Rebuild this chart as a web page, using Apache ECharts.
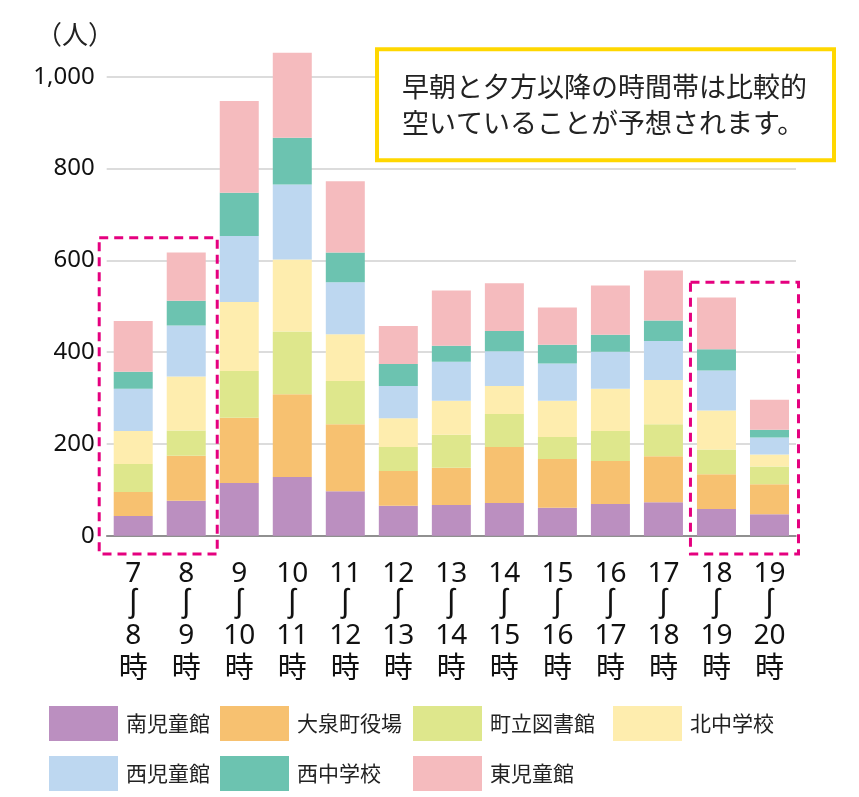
<!DOCTYPE html>
<html><head><meta charset="utf-8">
<script src="https://cdn.jsdelivr.net/npm/echarts@6/dist/echarts.min.js"></script>
<style>html,body{margin:0;padding:0;background:#fff}#c{width:859px;height:797px}</style>
</head><body><div id="c"></div>
<script>
const startHours = [7,8,9,10,11,12,13,14,15,16,17,18,19];
const endHours   = [8,9,10,11,12,13,14,15,16,17,18,19,20];
const categories = startHours.map((s,i)=>s+'〜'+endHours[i]+'時');
const seriesNames = ['南児童館','大泉町役場','町立図書館','北中学校','西児童館','西中学校','東児童館'];
const minamiJidokan  = [43, 76, 115, 128, 97, 65, 67, 71, 61, 69, 73, 58, 47];
const oizumiYakuba   = [52, 98, 142, 180, 146, 76, 81, 122, 106, 94, 100, 76, 65];
const choritsuTosho  = [61, 55, 102, 137, 94, 52, 72, 72, 48, 65, 70, 54, 39];
const kitaChugakko   = [72, 118, 150, 157, 102, 63, 74, 61, 79, 92, 96, 85, 26];
const nishiJidokan   = [92, 111, 144, 163, 113, 70, 85, 76, 81, 81, 85, 87, 37];
const nishiChugakko  = [37, 54, 94, 102, 65, 48, 35, 44, 41, 37, 45, 46, 17];
const higashiJidokan = [111, 105, 200, 185, 155, 83, 120, 104, 81, 107, 109, 113, 65];
const seriesValues = [minamiJidokan, oizumiYakuba, choritsuTosho, kitaChugakko, nishiJidokan, nishiChugakko, higashiJidokan];
const colors = ['#bb8fc0','#f7c170','#dee78c','#feedae','#bdd7f0','#6cc3b0','#f5bbbe'];
const yTicks = [0,200,400,600,800,1000];
const highlightGroups = [[0,1],[11,12]];
const noteLines = ['早朝と夕方以降の時間帯は比較的','空いていることが予想されます。'];

const JP = "'Noto Sans CJK JP', 'Noto Sans', sans-serif";
const NUM = "'Noto Sans', 'Noto Sans CJK JP', sans-serif";

const chart = echarts.init(document.getElementById('c'));
const legendCols = [[0,4],[1,5],[2,6],[3]];
const legendLefts = [44, 215, 408, 608];
const option = {
  animation: false,
  grid: {left: 106.7, right: 63, top: 76.7, bottom: 261.3, containLabel: false},
  xAxis: {
    type: 'category', data: categories,
    axisLine: {show: true, lineStyle: {color: '#777', width: 1.5}},
    axisTick: {show: false},
    axisLabel: {
      interval: 0, margin: 23, color: '#111', fontFamily: NUM, fontSize: 28, lineHeight: 31,
      formatter: (v) => { const m = v.match(/(\d+)〜(\d+)時/); return m[1] + '\n{w|ʃ}\n' + m[2] + '\n{j|時}'; },
      rich: {
        w: {fontFamily: "'Noto Sans'", fontSize: 31, lineHeight: 31, color: '#111', padding: [0, 0, 4, 0]},
        j: {fontFamily: JP, fontSize: 29, lineHeight: 31, color: '#111'}
      }
    }
  },
  yAxis: {
    type: 'value', min: 0, max: 1000, interval: 200,
    axisLine: {show: false}, axisTick: {show: false},
    splitLine: {lineStyle: {color: '#d0d0d0', width: 1.5}},
    axisLabel: {margin: 12, color: '#111', fontFamily: NUM, fontSize: 24,
      formatter: (v) => v.toLocaleString('en-US')}
  },
  legend: legendCols.map((col, k) => ({
    orient: 'vertical', left: legendLefts[k], top: 701,
    data: col.map(i => ({name: seriesNames[i], icon: 'rect'})),
    itemWidth: 69, itemHeight: 35, itemGap: 15,
    selectedMode: false,
    textStyle: {fontFamily: JP, fontSize: 21, color: '#222', padding: [0,0,0,3]}
  })),
  series: seriesNames.map((n, i) => ({
    name: n, type: 'bar', stack: 'total', barWidth: 39, clip: false,
    itemStyle: {color: colors[i]},
    data: seriesValues[i]
  }))
};
chart.setOption(option);

function drawOverlays(){
  const px = (idx, val) => chart.convertToPixel({xAxisIndex:0, yAxisIndex:0}, [idx, val]);
  const extents = [
    {l: -34, r: 31, top: 649},
    {l: -26, r: 29, top: 552}
  ];
  const elems = [];
  highlightGroups.forEach((g, k) => {
    const a = px(g[0], extents[k].top), b = px(g[g.length-1], -40);
    elems.push({type:'rect', z: 100, silent: true,
      shape: {x: a[0] + extents[k].l, y: a[1], width: (b[0] + extents[k].r) - (a[0] + extents[k].l), height: b[1] - a[1]},
      style: {fill: 'none', stroke: '#e5007f', lineWidth: 3, lineDash: [9, 6]}});
  });
  elems.push({type:'text', z: 100, style: {x: 75, y: 34, text: '（人）', fontFamily: JP, fontSize: 26, fill: '#222', align: 'center', verticalAlign: 'middle'}});
  elems.push({type:'rect', z: 100, shape: {x: 377, y: 49.3, width: 457, height: 111},
    style: {fill: '#fff', stroke: '#ffd700', lineWidth: 4}});
  noteLines.forEach((t, i) => {
    elems.push({type:'text', z: 101, style: {x: 402, y: 86.7 + i * 36.5, text: t, fontFamily: JP, fontSize: 27, fill: '#222', align: 'left', verticalAlign: 'middle'}});
  });
  chart.setOption({graphic: {elements: elems}});
}
drawOverlays();
</script>
</body></html>
